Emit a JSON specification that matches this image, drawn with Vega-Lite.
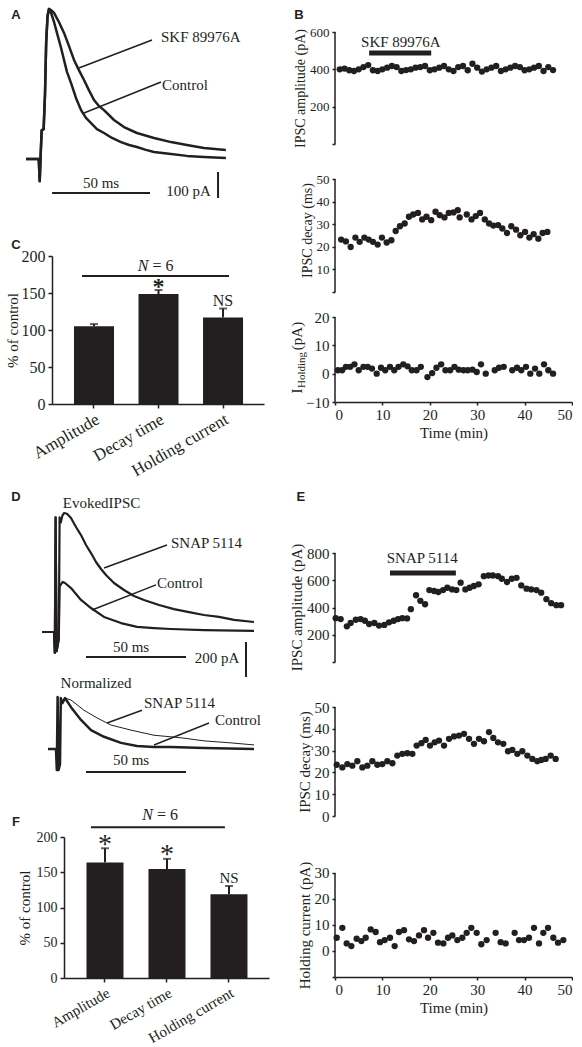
{
"$schema":"https://vega.github.io/schema/vega-lite/v6.json",
"background":"white",
"padding":{"left":5,"top":7,"right":0,"bottom":0},
"bounds":"flush",
"spacing":271,
"datasets":{
"traceA":[
{"trace":"Control","t":0,"v":0},{"trace":"Control","t":6.5,"v":0},{"trace":"Control","t":7.0,"v":-85},{"trace":"Control","t":7.5,"v":20},{"trace":"Control","t":8.0,"v":110},{"trace":"Control","t":9.0,"v":115},{"trace":"Control","t":9.7,"v":250},{"trace":"Control","t":10.3,"v":450},{"trace":"Control","t":11.0,"v":550},{"trace":"Control","t":11.7,"v":577},{"trace":"Control","t":12.8,"v":562},{"trace":"Control","t":14.3,"v":527},{"trace":"Control","t":15.8,"v":485},{"trace":"Control","t":17.9,"v":427},{"trace":"Control","t":19.4,"v":381},{"trace":"Control","t":20.9,"v":335},{"trace":"Control","t":23.0,"v":292},{"trace":"Control","t":25.5,"v":235},{"trace":"Control","t":28.1,"v":188},{"trace":"Control","t":30.6,"v":158},{"trace":"Control","t":33.2,"v":138},{"trace":"Control","t":36.2,"v":115},{"trace":"Control","t":39.8,"v":100},{"trace":"Control","t":43.9,"v":81},{"trace":"Control","t":48.5,"v":65},{"trace":"Control","t":52.6,"v":54},{"trace":"Control","t":56.6,"v":46},{"trace":"Control","t":61.2,"v":35},{"trace":"Control","t":65.3,"v":27},{"trace":"Control","t":74.0,"v":19},{"trace":"Control","t":82.1,"v":12},{"trace":"Control","t":90.8,"v":8},{"trace":"Control","t":102,"v":4},
{"trace":"SKF 89976A","t":0,"v":0},{"trace":"SKF 89976A","t":6.5,"v":0},{"trace":"SKF 89976A","t":7.0,"v":-85},{"trace":"SKF 89976A","t":7.5,"v":20},{"trace":"SKF 89976A","t":8.0,"v":110},{"trace":"SKF 89976A","t":9.0,"v":115},{"trace":"SKF 89976A","t":9.7,"v":250},{"trace":"SKF 89976A","t":10.3,"v":450},{"trace":"SKF 89976A","t":11.0,"v":550},{"trace":"SKF 89976A","t":11.7,"v":577},{"trace":"SKF 89976A","t":12.8,"v":573},{"trace":"SKF 89976A","t":14.3,"v":562},{"trace":"SKF 89976A","t":16.8,"v":527},{"trace":"SKF 89976A","t":19.4,"v":485},{"trace":"SKF 89976A","t":21.9,"v":435},{"trace":"SKF 89976A","t":24.5,"v":381},{"trace":"SKF 89976A","t":27.0,"v":342},{"trace":"SKF 89976A","t":29.6,"v":304},{"trace":"SKF 89976A","t":32.1,"v":265},{"trace":"SKF 89976A","t":34.7,"v":227},{"trace":"SKF 89976A","t":37.2,"v":204},{"trace":"SKF 89976A","t":39.8,"v":188},{"trace":"SKF 89976A","t":44.9,"v":150},{"trace":"SKF 89976A","t":50.0,"v":123},{"trace":"SKF 89976A","t":56.6,"v":100},{"trace":"SKF 89976A","t":65.3,"v":81},{"trace":"SKF 89976A","t":74.0,"v":65},{"trace":"SKF 89976A","t":82.1,"v":54},{"trace":"SKF 89976A","t":90.8,"v":42},{"trace":"SKF 89976A","t":102,"v":35}
],
"traceDT":[
{"trace":"SNAP 5114","t":0,"v":0},{"trace":"SNAP 5114","t":6,"v":0},{"trace":"SNAP 5114","t":6.4,"v":-120},{"trace":"SNAP 5114","t":6.8,"v":655},{"trace":"SNAP 5114","t":7.3,"v":-110},{"trace":"SNAP 5114","t":8.4,"v":-40},{"trace":"SNAP 5114","t":8.8,"v":655},{"trace":"SNAP 5114","t":9.4,"v":625},{"trace":"SNAP 5114","t":10.2,"v":665},{"trace":"SNAP 5114","t":11,"v":680},{"trace":"SNAP 5114","t":12.5,"v":676},{"trace":"SNAP 5114","t":14.5,"v":651},{"trace":"SNAP 5114","t":17,"v":600},{"trace":"SNAP 5114","t":19.5,"v":554},{"trace":"SNAP 5114","t":22,"v":497},{"trace":"SNAP 5114","t":24.5,"v":451},{"trace":"SNAP 5114","t":27,"v":400},{"trace":"SNAP 5114","t":29.5,"v":360},{"trace":"SNAP 5114","t":32,"v":326},{"trace":"SNAP 5114","t":36,"v":280},{"trace":"SNAP 5114","t":41,"v":240},{"trace":"SNAP 5114","t":46,"v":206},{"trace":"SNAP 5114","t":51,"v":183},{"trace":"SNAP 5114","t":58.5,"v":154},{"trace":"SNAP 5114","t":66,"v":131},{"trace":"SNAP 5114","t":73.5,"v":114},{"trace":"SNAP 5114","t":81,"v":97},{"trace":"SNAP 5114","t":88.5,"v":86},{"trace":"SNAP 5114","t":96,"v":69},{"trace":"SNAP 5114","t":106,"v":57},
{"trace":"Control","t":0,"v":0},{"trace":"Control","t":6,"v":0},{"trace":"Control","t":6.4,"v":-120},{"trace":"Control","t":6.8,"v":655},{"trace":"Control","t":7.3,"v":-110},{"trace":"Control","t":8.4,"v":-40},{"trace":"Control","t":8.8,"v":260},{"trace":"Control","t":10.3,"v":286},{"trace":"Control","t":11.5,"v":280},{"trace":"Control","t":14.5,"v":251},{"trace":"Control","t":19.5,"v":183},{"trace":"Control","t":24.5,"v":137},{"trace":"Control","t":31,"v":86},{"trace":"Control","t":39.5,"v":51},{"trace":"Control","t":47.5,"v":29},{"trace":"Control","t":56,"v":22},{"trace":"Control","t":64.5,"v":17},{"trace":"Control","t":81,"v":11},{"trace":"Control","t":106,"v":6}
],
"traceDNc":[
{"t":3,"v":0},{"t":7,"v":0},{"t":7.4,"v":-0.41},{"t":7.8,"v":1.02},{"t":8.3,"v":-0.41},{"t":9.0,"v":-0.3},{"t":9.4,"v":1.0},{"t":10.2,"v":0.9},{"t":11.5,"v":1.0},{"t":14.5,"v":0.82},{"t":19.5,"v":0.57},{"t":24.5,"v":0.37},{"t":31,"v":0.24},{"t":39.5,"v":0.12},{"t":47.5,"v":0.06},{"t":56,"v":0.04},{"t":64.5,"v":0.04},{"t":81,"v":0.02},{"t":106,"v":0}
],
"traceDNs":[
{"t":3,"v":0},{"t":7,"v":0},{"t":7.4,"v":-0.41},{"t":7.8,"v":1.02},{"t":8.3,"v":-0.41},{"t":9.0,"v":-0.3},{"t":9.4,"v":1.0},{"t":10.2,"v":0.9},{"t":11.5,"v":1.0},{"t":14.5,"v":0.96},{"t":21,"v":0.76},{"t":27.5,"v":0.61},{"t":34.5,"v":0.47},{"t":44.5,"v":0.37},{"t":56,"v":0.27},{"t":69.5,"v":0.22},{"t":81,"v":0.16},{"t":94.5,"v":0.12},{"t":106,"v":0.08}
],
"B1":[
{"t":1,"v":400},{"t":2,"v":404},{"t":3,"v":395},{"t":4,"v":391},{"t":5,"v":400},{"t":6,"v":412},{"t":7,"v":423},{"t":8,"v":395},{"t":9,"v":391},{"t":10,"v":400},{"t":11,"v":409},{"t":12,"v":418},{"t":13,"v":412},{"t":14,"v":391},{"t":15,"v":396},{"t":16,"v":400},{"t":17,"v":409},{"t":18,"v":412},{"t":19,"v":418},{"t":20,"v":395},{"t":21,"v":400},{"t":22,"v":409},{"t":23,"v":418},{"t":24,"v":400},{"t":25,"v":391},{"t":26,"v":412},{"t":27,"v":418},{"t":28,"v":395},{"t":29,"v":430},{"t":30,"v":409},{"t":31,"v":388},{"t":32,"v":400},{"t":33,"v":409},{"t":34,"v":418},{"t":35,"v":391},{"t":36,"v":400},{"t":37,"v":409},{"t":38,"v":418},{"t":39,"v":412},{"t":40,"v":395},{"t":41,"v":400},{"t":42,"v":409},{"t":43,"v":418},{"t":44,"v":391},{"t":45,"v":412},{"t":46,"v":396}
],
"B2":[
{"t":1.3,"v":23.2},{"t":2.3,"v":22.4},{"t":3.3,"v":19.9},{"t":4.3,"v":24.1},{"t":5.2,"v":22.2},{"t":6.2,"v":24.1},{"t":7.1,"v":23.2},{"t":8.0,"v":22.2},{"t":9.0,"v":21.0},{"t":9.9,"v":24.1},{"t":10.9,"v":21.9},{"t":11.9,"v":22.9},{"t":12.8,"v":27.0},{"t":13.7,"v":29.1},{"t":14.7,"v":30.3},{"t":15.6,"v":33.3},{"t":16.5,"v":34.3},{"t":17.5,"v":35.0},{"t":18.4,"v":32.1},{"t":19.3,"v":33.3},{"t":20.3,"v":31.8},{"t":21.2,"v":35.5},{"t":22.1,"v":34.0},{"t":23.1,"v":33.0},{"t":24.0,"v":35.0},{"t":25.0,"v":35.2},{"t":25.9,"v":36.2},{"t":26.3,"v":33.0},{"t":27.8,"v":34.3},{"t":28.8,"v":32.1},{"t":29.7,"v":33.6},{"t":30.6,"v":35.0},{"t":31.6,"v":32.1},{"t":32.5,"v":30.3},{"t":33.4,"v":29.4},{"t":34.4,"v":29.6},{"t":35.3,"v":28.1},{"t":36.3,"v":26.1},{"t":37.2,"v":29.1},{"t":38.2,"v":27.6},{"t":39.1,"v":25.1},{"t":40.1,"v":26.6},{"t":41.0,"v":24.1},{"t":41.9,"v":25.6},{"t":42.9,"v":23.6},{"t":43.8,"v":26.1},{"t":44.8,"v":26.6}
],
"B3":[
{"t":0.6,"v":1.2},{"t":1.5,"v":1.2},{"t":2.3,"v":2.4},{"t":3.2,"v":2.4},{"t":4.1,"v":3.3},{"t":5.0,"v":1.2},{"t":6.0,"v":2.4},{"t":6.9,"v":2.4},{"t":7.8,"v":1.8},{"t":8.8,"v":0},{"t":9.7,"v":2.1},{"t":10.6,"v":1.2},{"t":11.6,"v":2.4},{"t":12.5,"v":1.2},{"t":13.4,"v":2.4},{"t":14.4,"v":3.3},{"t":15.3,"v":2.6},{"t":16.2,"v":1.2},{"t":17.2,"v":1.2},{"t":18.1,"v":2.4},{"t":19.5,"v":-1.2},{"t":20.5,"v":0.2},{"t":21.4,"v":2.1},{"t":22.4,"v":3.3},{"t":23.3,"v":1.2},{"t":24.3,"v":1.2},{"t":25.2,"v":2.4},{"t":26.1,"v":1.4},{"t":27.1,"v":1.2},{"t":28.0,"v":1.2},{"t":29.0,"v":1.4},{"t":29.9,"v":0.6},{"t":30.8,"v":3.3},{"t":31.8,"v":0},{"t":33.7,"v":1.2},{"t":34.6,"v":2.1},{"t":35.6,"v":2.4},{"t":37.4,"v":1.2},{"t":38.4,"v":2.1},{"t":39.3,"v":1.2},{"t":40.3,"v":2.4},{"t":41.2,"v":0},{"t":42.2,"v":1.8},{"t":43.1,"v":0},{"t":44.1,"v":3.3},{"t":45.0,"v":1.2},{"t":46.0,"v":0}
],
"E1":[
{"t":0.15,"v":322},{"t":1.2,"v":315},{"t":2.5,"v":262},{"t":3.3,"v":286},{"t":4.4,"v":310},{"t":5.4,"v":315},{"t":6.3,"v":303},{"t":7.2,"v":279},{"t":8.3,"v":286},{"t":9.3,"v":267},{"t":10.4,"v":272},{"t":11.4,"v":291},{"t":12.4,"v":303},{"t":13.3,"v":315},{"t":14.2,"v":322},{"t":15.2,"v":320},{"t":16.0,"v":388},{"t":17.1,"v":490},{"t":18.0,"v":449},{"t":19.0,"v":424},{"t":19.9,"v":528},{"t":20.9,"v":521},{"t":21.8,"v":514},{"t":22.8,"v":528},{"t":23.7,"v":545},{"t":24.7,"v":533},{"t":25.6,"v":528},{"t":26.5,"v":582},{"t":27.5,"v":533},{"t":28.4,"v":545},{"t":29.3,"v":558},{"t":30.3,"v":570},{"t":31.4,"v":630},{"t":32.4,"v":635},{"t":33.3,"v":635},{"t":34.4,"v":630},{"t":35.2,"v":611},{"t":36.3,"v":587},{"t":37.3,"v":611},{"t":38.3,"v":618},{"t":39.3,"v":562},{"t":40.4,"v":538},{"t":41.4,"v":533},{"t":42.5,"v":528},{"t":43.5,"v":509},{"t":44.6,"v":461},{"t":45.6,"v":432},{"t":46.7,"v":417},{"t":47.7,"v":417}
],
"E2":[
{"t":0.36,"v":23.5},{"t":1.55,"v":22.3},{"t":2.6,"v":23.8},{"t":3.66,"v":23.1},{"t":4.71,"v":25.1},{"t":5.77,"v":22.3},{"t":6.82,"v":23.1},{"t":7.88,"v":25.1},{"t":8.93,"v":23.5},{"t":9.99,"v":23.8},{"t":11.04,"v":25.1},{"t":12.1,"v":24.2},{"t":13.15,"v":27.7},{"t":14.21,"v":28.5},{"t":15.26,"v":28.8},{"t":16.32,"v":28.5},{"t":17.23,"v":32.3},{"t":18.22,"v":33.4},{"t":19.13,"v":34.9},{"t":20.04,"v":32.3},{"t":21.03,"v":33.8},{"t":21.94,"v":34.6},{"t":23.0,"v":32.3},{"t":24.05,"v":35.4},{"t":25.11,"v":36.5},{"t":26.16,"v":36.9},{"t":27.22,"v":37.7},{"t":28.27,"v":35.4},{"t":29.32,"v":33.1},{"t":30.38,"v":35.4},{"t":31.43,"v":34.3},{"t":32.49,"v":38.5},{"t":33.4,"v":35.8},{"t":34.39,"v":33.8},{"t":35.51,"v":33.1},{"t":36.5,"v":29.7},{"t":37.41,"v":30.3},{"t":38.47,"v":28.5},{"t":39.52,"v":29.7},{"t":40.58,"v":27.7},{"t":41.63,"v":26.2},{"t":42.69,"v":25.1},{"t":43.53,"v":25.7},{"t":44.44,"v":26.2},{"t":45.5,"v":27.7},{"t":46.55,"v":26.2}
],
"E3":[
{"t":0.36,"v":5.1},{"t":1.55,"v":8.9},{"t":2.46,"v":2.9},{"t":3.45,"v":1.9},{"t":4.57,"v":4.7},{"t":5.56,"v":3.8},{"t":6.47,"v":5.1},{"t":7.53,"v":8.3},{"t":8.58,"v":7.3},{"t":9.49,"v":3.4},{"t":10.48,"v":4.2},{"t":11.6,"v":5.1},{"t":12.59,"v":1.9},{"t":13.5,"v":7.3},{"t":14.56,"v":8.0},{"t":15.61,"v":4.5},{"t":16.67,"v":3.8},{"t":17.72,"v":6.0},{"t":18.78,"v":8.0},{"t":19.63,"v":5.1},{"t":20.75,"v":7.0},{"t":21.73,"v":3.2},{"t":22.86,"v":2.9},{"t":23.84,"v":5.1},{"t":24.75,"v":6.0},{"t":25.81,"v":4.2},{"t":26.86,"v":5.1},{"t":27.78,"v":7.0},{"t":28.76,"v":8.9},{"t":29.89,"v":7.0},{"t":30.87,"v":2.6},{"t":31.99,"v":4.2},{"t":33.89,"v":7.0},{"t":34.95,"v":3.4},{"t":36.0,"v":2.9},{"t":37.9,"v":7.0},{"t":38.82,"v":4.2},{"t":39.87,"v":4.2},{"t":40.93,"v":5.1},{"t":41.98,"v":8.9},{"t":43.04,"v":2.9},{"t":43.95,"v":7.0},{"t":44.94,"v":8.9},{"t":46.06,"v":5.1},{"t":47.05,"v":3.2},{"t":48.17,"v":4.2}
]
},
"hconcat":[
{"vconcat":[
 {"width":205,"height":224,
  "encoding":{"x":{"field":"t","type":"quantitative","scale":{"domain":[19.39,124],"nice":false,"zero":false},"axis":null},
              "y":{"field":"v","type":"quantitative","scale":{"domain":[-373.1,488.5],"nice":false,"zero":false},"axis":null}},
  "layer":[
   {"data":{"name":"traceA"},"mark":{"type":"line","strokeWidth":2.5,"strokeJoin":"round"},"encoding":{"detail":{"field":"trace"}}},
   {"data":{"values":[{"t":64.3,"v":458,"t2":27.0,"v2":350},{"t":68.9,"v":296,"t2":29.6,"v2":177}]},"mark":{"type":"rule","strokeWidth":1.5},"encoding":{"x2":{"field":"t2"},"y2":{"field":"v2"}}},
   {"data":{"values":[{"t":13.3,"v":-131,"t2":63.3,"v2":-131},{"t":98,"v":-50,"t2":98,"v2":-150}]},"mark":{"type":"rule","strokeWidth":2},"encoding":{"x2":{"field":"t2"},"y2":{"field":"v2"}}},
   {"data":{"values":[{"t":68.9,"v":469,"label":"SKF 89976A"},{"t":69.4,"v":285,"label":"Control"}]},"mark":{"type":"text","align":"left","baseline":"middle","fontSize":15},"encoding":{"text":{"field":"label"}}},
   {"data":{"values":[{"t":38.3,"v":-92,"label":"50 ms"},{"t":82.9,"v":-123,"label":"100 pA"}]},"mark":{"type":"text","align":"center","baseline":"middle","fontSize":15},"encoding":{"text":{"field":"label"}}},
   {"data":{"values":[{"t":-5.1,"v":554,"label":"A"},{"t":-5.1,"v":-331,"label":"C"}]},"mark":{"type":"text","align":"center","baseline":"middle","fontSize":13,"font":"Liberation Sans","fontWeight":"bold"},"encoding":{"text":{"field":"label"}}}
  ]},
 {"width":205,"height":148,
  "data":{"values":[{"m":"Amplitude","v":105,"e":108},{"m":"Decay time","v":148.6,"e":154},{"m":"Holding current","v":117,"e":129}]},
  "encoding":{
   "x":{"field":"m","type":"nominal","sort":null,"scale":{"range":[-12,200],"paddingInner":0.38,"paddingOuter":0.333,"align":0.512},"axis":{"title":null,"labelAngle":-30,"labelAlign":"right","labelBaseline":"top","labelFontSize":17,"tickSize":4,"labelPadding":3}},
   "y":{"field":"v","type":"quantitative","title":"% of control","scale":{"domain":[0,200],"nice":false},"axis":{"values":[0,50,100,150,200],"offset":12,"titleFontSize":15,"labelFontSize":16,"tickSize":4,"labelPadding":3,"titlePadding":1}}},
  "layer":[
   {"mark":{"type":"bar"}},
   {"mark":{"type":"rule","strokeWidth":2},"encoding":{"y2":{"field":"e"}}},
   {"mark":{"type":"tick","thickness":2,"size":8},"encoding":{"y":{"field":"e","type":"quantitative","title":"% of control"}}},
   {"data":{"values":[{"m":"Amplitude","m2":"Holding current","y":173}]},"mark":{"type":"rule","strokeWidth":2},"encoding":{"x":{"field":"m","type":"nominal","bandPosition":0.2},"x2":{"field":"m2","bandPosition":0.65},"y":{"field":"y","type":"quantitative","title":"% of control"}}},
   {"data":{"values":[{"m":"Decay time","y":187}]},"mark":{"type":"text","fontSize":16,"fontStyle":"italic","align":"right","baseline":"middle","dx":-10},"encoding":{"y":{"field":"y","type":"quantitative","title":"% of control"},"text":{"value":"N"}}},
   {"data":{"values":[{"m":"Decay time","y":187}]},"mark":{"type":"text","fontSize":16,"align":"left","baseline":"middle","dx":-6},"encoding":{"y":{"field":"y","type":"quantitative","title":"% of control"},"text":{"value":"= 6"}}},
   {"data":{"values":[{"m":"Decay time","y":148}]},"mark":{"type":"text","fontSize":24,"fontWeight":"bold","align":"center","baseline":"alphabetic"},"encoding":{"y":{"field":"y","type":"quantitative","title":"% of control"},"text":{"value":"*"}}},
   {"data":{"values":[{"m":"Holding current","y":139}]},"mark":{"type":"text","fontSize":16,"align":"center","baseline":"middle"},"encoding":{"y":{"field":"y","type":"quantitative","title":"% of control"},"text":{"value":"NS"}}}
  ]},
 {"width":205,"height":276,
  "encoding":{"x":{"field":"t","type":"quantitative","scale":{"domain":[11,113.5],"nice":false,"zero":false},"axis":null},
              "y":{"field":"v","type":"quantitative","scale":{"domain":[-274.3,1302.9],"nice":false,"zero":false},"axis":null}},
  "layer":[
   {"data":{"name":"traceDT"},"mark":{"type":"line","strokeWidth":2.2,"strokeJoin":"round"},"encoding":{"detail":{"field":"trace"}}},
   {"data":{"values":[{"t":62.5,"v":497,"t2":31,"v2":366},{"t":57,"v":269,"t2":25,"v2":126}]},"mark":{"type":"rule","strokeWidth":1.5},"encoding":{"x2":{"field":"t2"},"y2":{"field":"v2"}}},
   {"data":{"values":[{"t":22,"v":-143,"t2":72,"v2":-143},{"t":102,"v":-57,"t2":102,"v2":-257}]},"mark":{"type":"rule","strokeWidth":2},"encoding":{"x2":{"field":"t2"},"y2":{"field":"v2"}}},
   {"data":{"values":[{"t":64.5,"v":509,"label":"SNAP 5114"},{"t":57.5,"v":280,"label":"Control"}]},"mark":{"type":"text","align":"left","baseline":"middle","fontSize":15},"encoding":{"text":{"field":"label"}}},
   {"data":{"values":[{"t":29.75,"v":737,"label":"EvokedIPSC"},{"t":44.5,"v":-86,"label":"50 ms"},{"t":87.5,"v":-149,"label":"200 pA"}]},"mark":{"type":"text","align":"center","baseline":"middle","fontSize":15},"encoding":{"text":{"field":"label"}}},
   {"data":{"values":[{"t":-13,"v":771,"label":"D"}]},"mark":{"type":"text","align":"center","baseline":"middle","fontSize":13,"font":"Liberation Sans","fontWeight":"bold"},"encoding":{"text":{"field":"label"}}}
  ]},
 {"width":205,"height":157,
  "encoding":{"x":{"field":"t","type":"quantitative","scale":{"domain":[11,113.5],"nice":false,"zero":false},"axis":null},
              "y":{"field":"v","type":"quantitative","scale":{"domain":[-1.725,1.353],"nice":false,"zero":false},"axis":null}},
  "layer":[
   {"data":{"name":"traceDNs"},"mark":{"type":"line","strokeWidth":1}},
   {"data":{"name":"traceDNc"},"mark":{"type":"line","strokeWidth":2.5,"strokeJoin":"round"}},
   {"data":{"values":[{"t":50,"v":0.76,"t2":32.5,"v2":0.51},{"t":83.5,"v":0.51,"t2":56,"v2":0.08}]},"mark":{"type":"rule","strokeWidth":1.5},"encoding":{"x2":{"field":"t2"},"y2":{"field":"v2"}}},
   {"data":{"values":[{"t":22,"v":-0.45,"t2":72,"v2":-0.45}]},"mark":{"type":"rule","strokeWidth":2},"encoding":{"x2":{"field":"t2"},"y2":{"field":"v2"}}},
   {"data":{"values":[{"t":51,"v":0.9,"label":"SNAP 5114"},{"t":86.5,"v":0.57,"label":"Control"}]},"mark":{"type":"text","align":"left","baseline":"middle","fontSize":15},"encoding":{"text":{"field":"label"}}},
   {"data":{"values":[{"t":27,"v":1.29,"label":"Normalized"},{"t":44.5,"v":-0.22,"label":"50 ms"}]},"mark":{"type":"text","align":"center","baseline":"middle","fontSize":15},"encoding":{"text":{"field":"label"}}},
   {"data":{"values":[{"t":-13,"v":-1.43,"label":"F"}]},"mark":{"type":"text","align":"center","baseline":"middle","fontSize":13,"font":"Liberation Sans","fontWeight":"bold"},"encoding":{"text":{"field":"label"}}}
  ]},
 {"width":205,"height":141,
  "data":{"values":[{"m":"Amplitude","v":164,"e":184},{"m":"Decay time","v":154.6,"e":169},{"m":"Holding current","v":118.7,"e":130.5}]},
  "encoding":{
   "x":{"field":"m","type":"nominal","sort":null,"scale":{"paddingInner":0.403,"paddingOuter":0.355,"align":0.511},"axis":{"title":null,"labelAngle":-30,"labelAlign":"right","labelBaseline":"top","labelFontSize":15,"tickSize":4,"labelPadding":3}},
   "y":{"field":"v","type":"quantitative","title":"% of control","scale":{"domain":[0,200],"nice":false},"axis":{"values":[0,50,100,150,200],"titleFontSize":15,"labelFontSize":14,"tickSize":4,"labelPadding":3,"titlePadding":4}}},
  "layer":[
   {"mark":{"type":"bar"}},
   {"mark":{"type":"rule","strokeWidth":2},"encoding":{"y2":{"field":"e"}}},
   {"mark":{"type":"tick","thickness":2,"size":8},"encoding":{"y":{"field":"e","type":"quantitative","title":"% of control"}}},
   {"data":{"values":[{"m":"Amplitude","m2":"Holding current","y":214}]},"mark":{"type":"rule","strokeWidth":2},"encoding":{"x":{"field":"m","type":"nominal","bandPosition":0.12},"x2":{"field":"m2","bandPosition":0.39},"y":{"field":"y","type":"quantitative","title":"% of control"}}},
   {"data":{"values":[{"m":"Decay time","y":231}]},"mark":{"type":"text","fontSize":16,"fontStyle":"italic","align":"right","baseline":"middle","dx":-14},"encoding":{"y":{"field":"y","type":"quantitative","title":"% of control"},"text":{"value":"N"}}},
   {"data":{"values":[{"m":"Decay time","y":231}]},"mark":{"type":"text","fontSize":16,"align":"left","baseline":"middle","dx":-10},"encoding":{"y":{"field":"y","type":"quantitative","title":"% of control"},"text":{"value":"= 6"}}},
   {"data":{"values":[{"m":"Amplitude","y":176.6},{"m":"Decay time","y":163.8}]},"mark":{"type":"text","fontSize":28,"align":"center","baseline":"alphabetic"},"encoding":{"y":{"field":"y","type":"quantitative","title":"% of control"},"text":{"value":"*"}}},
   {"data":{"values":[{"m":"Holding current","y":142}]},"mark":{"type":"text","fontSize":15,"align":"center","baseline":"middle"},"encoding":{"y":{"field":"y","type":"quantitative","title":"% of control"},"text":{"value":"NS"}}}
  ]}
],"spacing":0,"bounds":"flush"},
{"vconcat":[
 {"width":237,"height":128,
  "encoding":{"x":{"field":"t","type":"quantitative","scale":{"domain":[0,50],"nice":false,"zero":false},"axis":null},
   "y":{"field":"v","type":"quantitative","title":"IPSC amplitude (pA)","scale":{"domain":[-85.71,600],"nice":false,"zero":false},"axis":{"values":[0,200,400,600],"labelExpr":"datum.value === 0 ? '' : datum.label","domain":false,"titleY":56,"labelFontSize":13,"titleFontSize":14}}},
  "layer":[
   {"data":{"name":"B1"},"mark":{"type":"circle"}},
   {"data":{"values":[{"t":0,"v":0,"v2":600}]},"mark":{"type":"rule","strokeWidth":1.5},"encoding":{"y2":{"field":"v2"}}},
   {"data":{"values":[{"t":7.2,"t2":20.3,"v":487}]},"mark":{"type":"rule","strokeWidth":5},"encoding":{"x2":{"field":"t2"}}},
   {"data":{"values":[{"t":13.9,"v":546,"label":"SKF 89976A"}]},"mark":{"type":"text","fontSize":15,"align":"center","baseline":"middle"},"encoding":{"text":{"field":"label"}}},
   {"data":{"values":[{"t":-7.6,"v":691,"label":"B"}]},"mark":{"type":"text","align":"center","baseline":"middle","fontSize":13,"font":"Liberation Sans","fontWeight":"bold"},"encoding":{"text":{"field":"label"}}}
  ]},
 {"width":237,"height":145,
  "encoding":{"x":{"field":"t","type":"quantitative","scale":{"domain":[0,50],"nice":false,"zero":false},"axis":null},
   "y":{"field":"v","type":"quantitative","title":"IPSC decay (ms)","scale":{"domain":[-5.75,58.41],"nice":false,"zero":false},"axis":{"values":[0,10,20,30,40,50],"labelExpr":"datum.value === 0 ? '' : datum.label","domain":false,"titleY":70,"labelFontSize":13,"titleFontSize":14}}},
  "layer":[
   {"data":{"name":"B2"},"mark":{"type":"circle"}},
   {"data":{"values":[{"t":0,"v":0,"v2":50}]},"mark":{"type":"rule","strokeWidth":1.5},"encoding":{"y2":{"field":"v2"}}}
  ]},
 {"width":237,"height":97,
  "encoding":{"x":{"field":"t","type":"quantitative","title":"Time (min)","scale":{"domain":[0,50],"nice":false,"zero":false},"axis":{"values":[0,10,20,30,40,50],"labelFontSize":15,"titleFontSize":15,"tickSize":3,"labelPadding":2,"titlePadding":3}},
   "y":{"field":"v","type":"quantitative","scale":{"domain":[-10,24.24],"nice":false,"zero":false},"axis":{"values":[-10,0,10,20],"domain":false,"title":null,"labelFontSize":15}}},
  "layer":[
   {"data":{"name":"B3"},"mark":{"type":"circle"}},
   {"data":{"values":[{"t":0,"v":-10,"v2":20}]},"mark":{"type":"rule","strokeWidth":1.5},"encoding":{"y2":{"field":"v2"}}},
   {"data":{"values":[{"t":-8.0,"v":-6.1,"label":"I"}]},"mark":{"type":"text","angle":270,"fontSize":15,"align":"center","baseline":"middle"},"encoding":{"text":{"field":"label"}}},
   {"data":{"values":[{"t":-7.0,"v":1.3,"label":"Holding"}]},"mark":{"type":"text","angle":270,"fontSize":11,"align":"center","baseline":"middle"},"encoding":{"text":{"field":"label"}}},
   {"data":{"values":[{"t":-8.0,"v":13.3,"label":"(pA)"}]},"mark":{"type":"text","angle":270,"fontSize":15,"align":"center","baseline":"middle"},"encoding":{"text":{"field":"label"}}}
  ]},
 {"width":237,"height":278,
  "encoding":{"x":{"field":"t","type":"quantitative","scale":{"domain":[0,50],"nice":false,"zero":false},"axis":null},
   "y":{"field":"v","type":"quantitative","title":"IPSC amplitude (pA)","scale":{"domain":[-132.1,1908.3],"nice":false,"zero":false},"axis":{"values":[0,200,400,600,800],"labelExpr":"datum.value === 0 ? '' : datum.label","domain":false,"titleY":205,"labelFontSize":15,"titleFontSize":15}}},
  "layer":[
   {"data":{"name":"E1"},"mark":{"type":"circle"}},
   {"data":{"values":[{"t":0,"v":0,"v2":800}]},"mark":{"type":"rule","strokeWidth":1.5},"encoding":{"y2":{"field":"v2"}}},
   {"data":{"values":[{"t":11.6,"t2":25.5,"v":653}]},"mark":{"type":"rule","strokeWidth":5},"encoding":{"x2":{"field":"t2"}}},
   {"data":{"values":[{"t":18.4,"v":763,"label":"SNAP 5114"}]},"mark":{"type":"text","fontSize":15,"align":"center","baseline":"middle"},"encoding":{"text":{"field":"label"}}},
   {"data":{"values":[{"t":-7.2,"v":1211,"label":"E"}]},"mark":{"type":"text","align":"center","baseline":"middle","fontSize":13,"font":"Liberation Sans","fontWeight":"bold"},"encoding":{"text":{"field":"label"}}}
  ]},
 {"width":237,"height":160,
  "encoding":{"x":{"field":"t","type":"quantitative","scale":{"domain":[0,50],"nice":false,"zero":false},"axis":null},
   "y":{"field":"v","type":"quantitative","title":"IPSC decay (ms)","scale":{"domain":[-11.01,62.39],"nice":false,"zero":false},"axis":{"values":[0,10,20,30,40,50],"domain":false,"titleY":81.5,"labelFontSize":15,"titleFontSize":15}}},
  "layer":[
   {"data":{"name":"E2"},"mark":{"type":"circle"}},
   {"data":{"values":[{"t":0,"v":0,"v2":50}]},"mark":{"type":"rule","strokeWidth":1.5},"encoding":{"y2":{"field":"v2"}}}
  ]},
 {"width":237,"height":137,
  "encoding":{"x":{"field":"t","type":"quantitative","title":"Time (min)","scale":{"domain":[0,50],"nice":false,"zero":false},"axis":{"values":[0,10,20,30,40,50],"labelFontSize":15,"titleFontSize":15,"tickSize":3,"labelPadding":2,"titlePadding":3}},
   "y":{"field":"v","type":"quantitative","title":"Holding current (pA)","scale":{"domain":[-10,42.69],"nice":false,"zero":false},"axis":{"values":[-10,0,10,20,30],"labelExpr":"datum.value === -10 ? '' : datum.label","domain":false,"titleY":85,"labelFontSize":15,"titleFontSize":15}}},
  "layer":[
   {"data":{"name":"E3"},"mark":{"type":"circle"}},
   {"data":{"values":[{"t":0,"v":-10,"v2":30}]},"mark":{"type":"rule","strokeWidth":1.5},"encoding":{"y2":{"field":"v2"}}}
  ]}
],"spacing":0,"bounds":"flush"}
],
"config":{
 "view":{"stroke":null},
 "axis":{"grid":false,"domainColor":"#231f20","domainWidth":1.5,"tickColor":"#231f20","tickWidth":1.5,"tickSize":3,"labelColor":"#231f20","titleColor":"#231f20","labelFont":"Liberation Serif","titleFont":"Liberation Serif","titleFontWeight":"normal","labelFontSize":14,"titleFontSize":14,"labelPadding":3,"titlePadding":2,"labelOverlap":false},
 "circle":{"color":"#231f20","opacity":1,"size":40},
 "text":{"font":"Liberation Serif","color":"#231f20"},
 "line":{"color":"#231f20"},
 "rule":{"color":"#231f20"},
 "bar":{"color":"#231f20"},
 "tick":{"color":"#231f20"}
}
}
